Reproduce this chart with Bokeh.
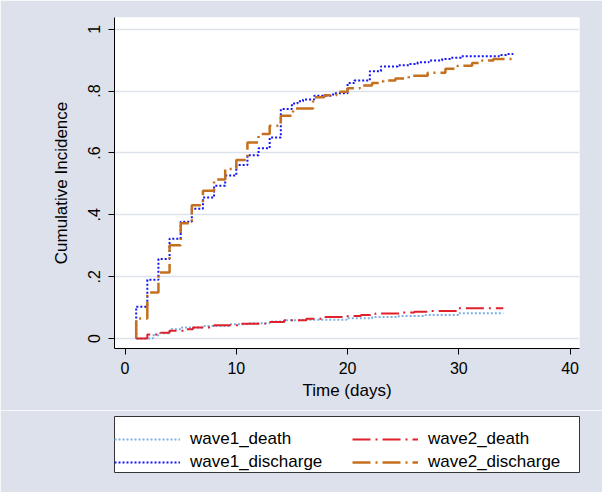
from bokeh.plotting import figure
from bokeh.layouts import column
from bokeh.models import Range1d, FixedTicker, Legend, LegendItem
from bokeh.embed import file_html
from bokeh.resources import INLINE

# ---------------- data ----------------
x_ticks = [0, 10, 20, 30, 40]
y_ticks = [0, 0.2, 0.4, 0.6, 0.8, 1.0]
y_tick_labels = ["0", ".2", ".4", ".6", ".8", "1"]

w1_death_t = [1, 2.5, 3, 4, 5.1, 7, 9.4, 11, 13, 14.5, 16, 19.9, 22.2, 24.6, 27, 30, 34]
w1_death_v = [0, 0.011, 0.017, 0.030, 0.036, 0.041, 0.046, 0.050, 0.055, 0.059, 0.061,
              0.066, 0.070, 0.073, 0.076, 0.082, 0.082]

w2_death_t = [1, 2, 3.1, 4, 5.4, 6.1, 8, 10.3, 12.6, 14.3, 16.3, 18, 20, 21.2, 22.5, 25, 26,
              27.3, 30, 34]
w2_death_v = [0, 0.013, 0.019, 0.025, 0.030, 0.036, 0.043, 0.048, 0.054, 0.059, 0.064, 0.070,
              0.073, 0.076, 0.081, 0.084, 0.087, 0.089, 0.098, 0.098]

w1_dis_t = [1, 1, 2, 3, 4, 5, 6, 7, 8, 9, 10, 11, 12, 13, 14, 15, 15.5, 16, 17, 18.7, 20,
            20.6, 22, 23, 24.5, 25.5, 26.3, 27.3, 28.5, 29.3, 30.2, 33.6, 34.3, 34.9]
w1_dis_v = [0, 0.103, 0.190, 0.257, 0.323, 0.378, 0.420, 0.456, 0.494, 0.527, 0.561, 0.593,
            0.615, 0.650, 0.742, 0.760, 0.767, 0.773, 0.785, 0.793, 0.826, 0.834, 0.864,
            0.880, 0.884, 0.888, 0.893, 0.899, 0.904, 0.908, 0.913, 0.917, 0.920, 0.920]

w2_dis_t = [1, 1, 2, 3, 4, 5, 6, 7, 8, 9, 10, 11, 12, 13, 14, 15.1, 16.9, 17.9, 19, 20,
            21.1, 22.2, 23.2, 24.3, 25.5, 27.2, 28.8, 29.9, 31.2, 32.1, 33.1, 35]
w2_dis_v = [0, 0.065, 0.149, 0.214, 0.302, 0.373, 0.431, 0.478, 0.514, 0.548, 0.577, 0.634,
            0.661, 0.688, 0.720, 0.744, 0.780, 0.787, 0.798, 0.809, 0.818, 0.826, 0.834,
            0.841, 0.850, 0.859, 0.872, 0.882, 0.891, 0.899, 0.904, 0.904]

series_labels = ["wave1_death", "wave1_discharge", "wave2_death", "wave2_discharge"]

FONT = "Liberation Sans"
BG = "#dce1ec"
STYLES = {
    "wave1_death": dict(line_color="#7eaee4", line_width=2, line_dash="2 2"),
    "wave1_discharge": dict(line_color="#1515f5", line_width=2, line_dash="2 2"),
    "wave2_death": dict(line_color="#e0202a", line_width=2, line_dash="18 5 2 5"),
    "wave2_discharge": dict(line_color="#c4701e", line_width=2.5, line_dash="18 5 2 5"),
}
series = {
    "wave1_death": (w1_death_t, w1_death_v),
    "wave1_discharge": (w1_dis_t, w1_dis_v),
    "wave2_death": (w2_death_t, w2_death_v),
    "wave2_discharge": (w2_dis_t, w2_dis_v),
}

# ---------------- main plot ----------------
p = figure(width=602, height=410, output_backend="svg", toolbar_location=None,
           x_range=Range1d(-0.95, 40.85), y_range=Range1d(-0.032, 1.038),
           min_border_left=103, min_border_right=13, min_border_top=17,
           min_border_bottom=62)
p.border_fill_color = BG
p.background_fill_color = "white"
p.outline_line_color = None
p.xgrid.visible = False
p.ygrid.grid_line_color = BG
p.ygrid.grid_line_width = 1.5

p.xaxis.ticker = FixedTicker(ticks=x_ticks)
p.yaxis.ticker = FixedTicker(ticks=y_ticks)
p.yaxis.major_label_overrides = {v: s for v, s in zip(y_ticks, y_tick_labels)}
p.yaxis.major_label_orientation = "parallel"
p.xaxis.axis_label = "Time (days)"
p.yaxis.axis_label = "Cumulative Incidence"

for ax in (p.xaxis[0], p.yaxis[0]):
    ax.axis_line_color = "black"
    ax.axis_line_width = 1
    ax.major_tick_line_color = "black"
    ax.major_tick_out = 6
    ax.major_tick_in = 0
    ax.minor_tick_line_color = None
    ax.major_label_text_font = FONT
    ax.major_label_text_font_size = "16px"
    ax.major_label_text_color = "black"
    ax.axis_label_text_font = FONT
    ax.axis_label_text_font_size = "17px"
    ax.axis_label_text_font_style = "normal"
    ax.axis_label_text_color = "black"
p.xaxis.major_label_standoff = 7
p.xaxis.axis_label_standoff = 4
p.yaxis.major_label_standoff = 8
p.yaxis.axis_label_standoff = 15

for name in ["wave1_death", "wave2_death", "wave1_discharge", "wave2_discharge"]:
    t, v = series[name]
    p.step(t, v, mode="after", **STYLES[name])

# ---------------- legend box (second figure, its frame is the box) ----------------
p2 = figure(width=602, height=82, output_backend="svg", toolbar_location=None,
            x_range=Range1d(100, 101), y_range=Range1d(100, 101),
            x_axis_type=None, y_axis_type=None,
            min_border_left=114, min_border_right=23, min_border_top=6,
            min_border_bottom=20)
p2.border_fill_color = BG
p2.background_fill_color = "white"
p2.outline_line_color = "#333333"
p2.outline_line_width = 1
p2.grid.visible = False

# same series, outside this figure's ranges: only their legend samples show
rend = {}
for name in series_labels:
    t, v = series[name]
    rend[name] = p2.step(t, v, mode="after", **STYLES[name])

common = dict(orientation="vertical", padding=6, spacing=3, glyph_width=66,
              glyph_height=20, label_height=20, label_standoff=10, margin=0,
              label_text_font=FONT, label_text_font_size="17px",
              label_text_color="black", border_line_color=None,
              background_fill_alpha=0.0)
leg1 = Legend(items=[LegendItem(label=n, renderers=[rend[n]]) for n in series_labels[:2]],
              location=(0, 0), **common)
leg2 = Legend(items=[LegendItem(label=n, renderers=[rend[n]]) for n in series_labels[2:]],
              location=(238, 0), **common)
p2.add_layout(leg1)
p2.add_layout(leg2)

layout = column(p, p2, spacing=0)
open("out.html", "w").write(file_html(layout, INLINE))
